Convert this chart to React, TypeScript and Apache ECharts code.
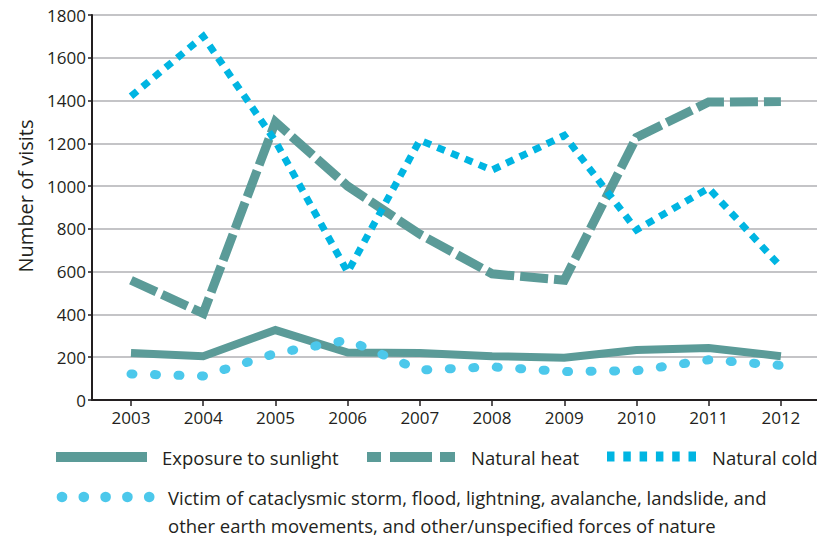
import React, { useEffect, useRef } from "react";
import * as echarts from "echarts";

const years = [2003, 2004, 2005, 2006, 2007, 2008, 2009, 2010, 2011, 2012];
const sunlight = [220, 205, 327, 222, 220, 205, 198, 234, 243, 205];
const heat = [560, 405, 1300, 1000, 775, 590, 560, 1228, 1393, 1395];
const cold = [1420, 1700, 1210, 598, 1215, 1075, 1237, 795, 990, 622];
const victim = [122, 112, 218, 280, 140, 155, 133, 137, 188, 162];
const yTicks = [0, 200, 400, 600, 800, 1000, 1200, 1400, 1600, 1800];

const TEAL = "#5b9b98";
const CYAN = "#00b5e2";
const LCYAN = "#4cc8eb";
const FONT = "'Open Sans', sans-serif";

const pairs = (vals: number[]) => years.map((y, i) => [y, vals[i]]);

export default function App() {
  const ref = useRef<HTMLDivElement>(null);
  useEffect(() => {
    const chart = echarts.init(ref.current!, null, { renderer: "svg" });
    const legendText = (txt: string, x: number, y: number) => ({
      type: "text",
      x,
      y,
      style: {
        text: txt,
        font: `18.5px ${FONT}`,
        fill: "#231f20",
        textVerticalAlign: "middle",
        lineHeight: 28,
      },
    });
    chart.setOption({
      animation: false,
      grid: { left: 92, right: 0, top: 15, bottom: 136 },
      xAxis: {
        type: "value",
        min: 2002.46,
        max: 2012.5,
        splitLine: { show: false },
        axisLine: { show: true, onZero: false, lineStyle: { color: "#231f20", width: 2 } },
        axisTick: { show: true, length: 6, customValues: years, lineStyle: { color: "#231f20", width: 1.5 } },
        axisLabel: {
          customValues: years,
          margin: 9,
          fontFamily: FONT,
          fontSize: 17,
          color: "#231f20",
          formatter: (v: number) => String(v),
        },
      },
      yAxis: {
        type: "value",
        min: 0,
        max: 1800,
        interval: 200,
        axisLine: { show: true, lineStyle: { color: "#231f20", width: 2 } },
        axisTick: { show: true, length: 4, lineStyle: { color: "#231f20", width: 1.5 } },
        axisLabel: {
          margin: 6,
          fontFamily: FONT,
          fontSize: 17,
          color: "#231f20",
          formatter: (v: number) => (yTicks.includes(v) ? String(v) : ""),
        },
        splitLine: { show: true, lineStyle: { color: "#b0b0b4", width: 1.5 } },
      },
      series: [
        {
          name: "Exposure to sunlight",
          type: "line",
          data: pairs(sunlight),
          symbol: "none",
          lineStyle: { color: TEAL, width: 8, join: "miter" },
        },
        {
          name: "Natural heat",
          type: "line",
          data: pairs(heat),
          symbol: "none",
          lineStyle: { color: TEAL, width: 9, type: [28, 6], cap: "butt", join: "miter" },
        },
        {
          name: "Natural cold",
          type: "line",
          data: pairs(cold),
          symbol: "none",
          lineStyle: { color: CYAN, width: 7, type: [8, 7], cap: "butt", join: "miter" },
        },
        {
          name: "Victim of cataclysmic storm",
          type: "line",
          data: pairs(victim),
          symbol: "none",
          lineStyle: { color: LCYAN, width: 9, type: [2, 21.5], cap: "round", join: "round" },
        },
      ],
      graphic: [
        {
          type: "text",
          x: 25,
          y: 196,
          rotation: Math.PI / 2,
          style: {
            text: "Number of visits",
            font: `20px ${FONT}`,
            fill: "#231f20",
            textAlign: "center",
            textVerticalAlign: "middle",
          },
        },
        { type: "line", shape: { x1: 56, y1: 457, x2: 147, y2: 457 }, style: { stroke: TEAL, lineWidth: 10 } },
        legendText("Exposure to sunlight", 162, 457),
        { type: "rect", shape: { x: 367, y: 452, width: 14, height: 10 }, style: { fill: TEAL } },
        { type: "rect", shape: { x: 390, y: 452, width: 42, height: 10 }, style: { fill: TEAL } },
        { type: "rect", shape: { x: 440, y: 452, width: 15, height: 10 }, style: { fill: TEAL } },
        legendText("Natural heat", 471, 457),
        ...[0, 1, 2, 3, 4, 5].map((i) => ({
          type: "rect",
          shape: { x: 607 + i * 16.3, y: 451.5, width: 7.5, height: 10 },
          style: { fill: CYAN },
        })),
        legendText("Natural cold", 712, 457),
        ...[0, 1, 2, 3, 4].map((i) => ({
          type: "circle",
          shape: { cx: 62 + i * 21.8, cy: 497, r: 5.3 },
          style: { fill: LCYAN },
        })),
        legendText(
          "Victim of cataclysmic storm, flood, lightning, avalanche, landslide, and\nother earth movements, and other/unspecified forces of nature",
          168,
          511
        ),
      ],
    });
    return () => chart.dispose();
  }, []);
  return <div ref={ref} style={{ width: 817, height: 536, position: "absolute", left: 0, top: 0 }} />;
}
